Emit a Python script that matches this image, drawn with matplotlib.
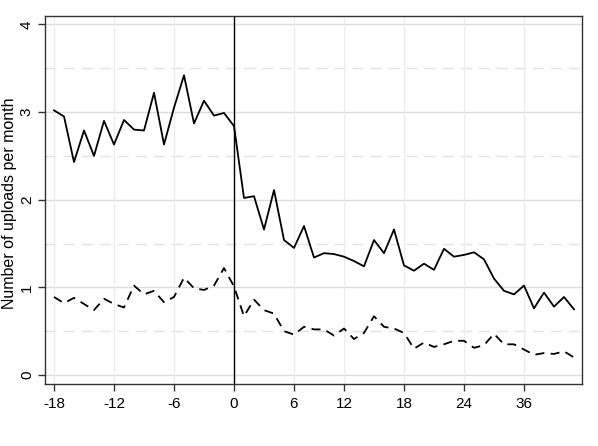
import numpy as np
import matplotlib.pyplot as plt

plt.rcParams['font.family'] = ['Liberation Sans', 'DejaVu Sans']

# month index relative to the event
months = np.arange(-18, 35)

uploads_solid = [3.02, 2.95, 2.43, 2.79, 2.50, 2.90, 2.63, 2.91, 2.80, 2.79,
                 3.22, 2.63, 3.05, 3.42, 2.87, 3.13, 2.96, 2.99, 2.84,
                 2.02, 2.04, 1.66, 2.11, 1.54, 1.45, 1.70, 1.34, 1.39, 1.38,
                 1.35, 1.30, 1.24, 1.54, 1.39, 1.66, 1.25, 1.19, 1.27, 1.20,
                 1.44, 1.35, 1.37, 1.40, 1.32, 1.10, 0.96, 0.92, 1.02, 0.76,
                 0.94, 0.78, 0.89, 0.75]

uploads_dashed = [0.89, 0.82, 0.88, 0.81, 0.74, 0.87, 0.81, 0.77, 1.02, 0.92,
                  0.96, 0.83, 0.89, 1.11, 0.99, 0.97, 1.02, 1.22, 1.01,
                  0.67, 0.86, 0.74, 0.70, 0.50, 0.46, 0.55, 0.52, 0.52, 0.45,
                  0.53, 0.41, 0.48, 0.67, 0.55, 0.53, 0.48, 0.30, 0.37, 0.32,
                  0.35, 0.39, 0.39, 0.31, 0.34, 0.47, 0.35, 0.35, 0.29, 0.23,
                  0.25, 0.24, 0.27, 0.20]

xtick_pos = [-18, -12, -6, 0, 6, 11, 17, 23, 29]
xtick_lab = ['-18', '-12', '-6', '0', '6', '12', '18', '24', '36']
ytick_pos = [0, 1, 2, 3, 4]

fig = plt.figure(figsize=(5.98, 4.46), dpi=100)
ax = fig.add_axes([45/598, 1 - 384/446, (582-45)/598, (384-15.7)/446])

# grid
for y in ytick_pos:
    ax.axhline(y, color='#dcdcdc', lw=1.0, zorder=0)
for y in [0.5, 1.5, 2.5, 3.5]:
    ax.axhline(y, color='#e3e3e3', lw=1.0, ls=(0, (8, 5)), zorder=0)
for x in xtick_pos:
    ax.axvline(x, color='#ededed', lw=1.0, zorder=0)

ax.axvline(0, color='black', lw=1.0, zorder=1)

ax.plot(months, uploads_solid, color='black', lw=1.3, zorder=3)
ax.plot(months, uploads_dashed, color='black', lw=1.3, ls=(0, (5, 3.5)), zorder=3)

ax.set_xlim(-18.9, 34.8)
ax.set_ylim(-0.103, 4.10)
ax.set_xticks(xtick_pos)
ax.set_xticklabels(xtick_lab, fontsize=11)
ax.set_yticks(ytick_pos)
ax.set_yticklabels([str(v) for v in ytick_pos], fontsize=11, rotation=90, va='center')
ax.tick_params(direction='out', length=5, width=1, color='#333333')
ax.tick_params(axis='x', pad=4)
ax.tick_params(axis='y', pad=3)
ax.set_ylabel('Number of uploads per month', fontsize=11.5)
ax.yaxis.set_label_coords(-35/537, 0.49)
ax.yaxis.label.set_verticalalignment('center')

for s in ax.spines.values():
    s.set_color('#333333')
    s.set_linewidth(1.0)

fig.savefig('out.png', dpi=100)
